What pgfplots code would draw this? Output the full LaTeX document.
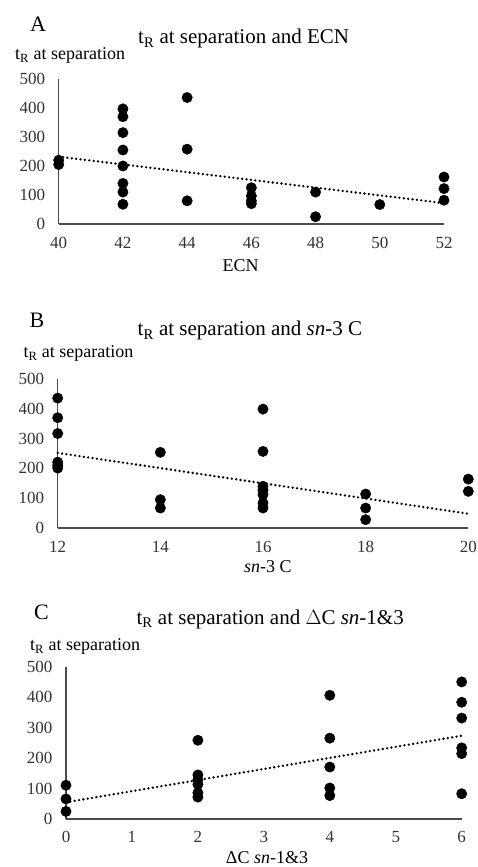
\documentclass[border=0pt]{standalone}
\usepackage{fontspec}
\setmainfont{Liberation Serif}
\usepackage{pgfplots}
\pgfplotsset{compat=1.18}

\pgfplotsset{
  panel/.style={
    scale only axis, anchor=south west,
    axis lines=left, axis line style={-, black!70, line width=1.2pt},
    major tick length=0pt,
    ymin=0, ymax=500, ytick={0,100,...,500},
    clip=false,
    tick label style={font=\fontsize{17}{17}\selectfont, text=black!80},
    /pgf/number format/assume math mode=true,
    yticklabel style={xshift=-10pt},
    xticklabel style={yshift=-10pt},
    title style={font=\fontsize{21}{21}\selectfont, anchor=base},
    xlabel style={font=\fontsize{18}{18}\selectfont, anchor=base},
  },
  pts/.style={only marks, mark=*, mark size=5.2pt, black},
  trend/.style={no marks, black, line width=2.6pt, line cap=round, dash pattern=on 0pt off 4.4pt},
}
\newcommand{\tR}{t\textsubscript{R}}

\begin{document}
\begin{tikzpicture}
\path[use as bounding box] (0pt,0pt) rectangle (477pt,867pt);

% ---- A ----
\node[anchor=base west, font=\fontsize{22}{22}\selectfont] at (26.7pt,835.3pt) {A};
\node[anchor=base west, font=\fontsize{18}{18}\selectfont] at (11.7pt,807pt) {\tR{} at separation};
\begin{axis}[panel,
  at={(58.7pt,643pt)}, width=385.3pt, height=145pt,
  xmin=40, xmax=52, xtick={40,42,...,52},
  title={\tR{} at separation and ECN},
  title style={at={(axis description cs:0.48,1)}, yshift=29pt},
  xlabel={ECN},
  xlabel style={at={(axis description cs:0.472,0)}, yshift=-48pt},
]
\addplot[pts] coordinates {
  (40,205) (40,220)
  (42,397) (42,370) (42,315) (42,255) (42,200) (42,140) (42,110) (42,68)
  (44,436) (44,258) (44,80)
  (46,125) (46,97) (46,80) (46,70)
  (48,110) (48,25)
  (50,67)
  (52,162) (52,122) (52,82)
};
\addplot[trend] coordinates {(40,232) (52,72)};
\end{axis}

% ---- B ----
\node[anchor=base west, font=\fontsize{22}{22}\selectfont] at (26pt,539pt) {B};
\node[anchor=base west, font=\fontsize{18}{18}\selectfont] at (20pt,509pt) {\tR{} at separation};
\begin{axis}[panel,
  at={(57.7pt,339pt)}, width=410.6pt, height=149pt,
  xmin=12, xmax=20, xtick={12,14,...,20},
  title={\tR{} at separation and \textit{sn}-3 C},
  title style={at={(axis description cs:0.468,1)}, yshift=37pt},
  xlabel={\textit{sn}-3 C},
  xlabel style={at={(axis description cs:0.512,0)}, yshift=-45pt},
]
\addplot[pts] coordinates {
  (12,436) (12,370) (12,317) (12,221) (12,210) (12,201)
  (14,254) (14,95) (14,67)
  (16,399) (16,257) (16,140) (16,127) (16,112) (16,84) (16,67)
  (18,114) (18,67) (18,28)
  (20,164) (20,123)
};
\addplot[trend] coordinates {(12,252) (20,48)};
\end{axis}

% ---- C ----
\node[anchor=base west, font=\fontsize{22}{22}\selectfont] at (30.7pt,247pt) {C};
\node[anchor=base west, font=\fontsize{18}{18}\selectfont] at (26.7pt,216.3pt) {\tR{} at separation};
\begin{axis}[panel,
  at={(66pt,48pt)}, width=395.7pt, height=152pt,
  xmin=0, xmax=6, xtick={0,1,...,6},
  xticklabel style={yshift=1pt},
  title={\tR{} at separation and \(\Delta\)C \textit{sn}-1\&3},
  title style={at={(axis description cs:0.516,1)}, yshift=37pt},
  xlabel={ΔC \textit{sn}-1\&3},
  xlabel style={at={(axis description cs:0.508,0)}, yshift=-44pt},
]
\addplot[pts] coordinates {
  (0,111) (0,66) (0,25)
  (2,259) (2,145) (2,129) (2,114) (2,86) (2,72)
  (4,407) (4,266) (4,171) (4,102) (4,77)
  (6,451) (6,384) (6,332) (6,234) (6,215) (6,83)
};
\addplot[trend] coordinates {(0,55) (6,274)};
\end{axis}
\end{tikzpicture}
\end{document}
